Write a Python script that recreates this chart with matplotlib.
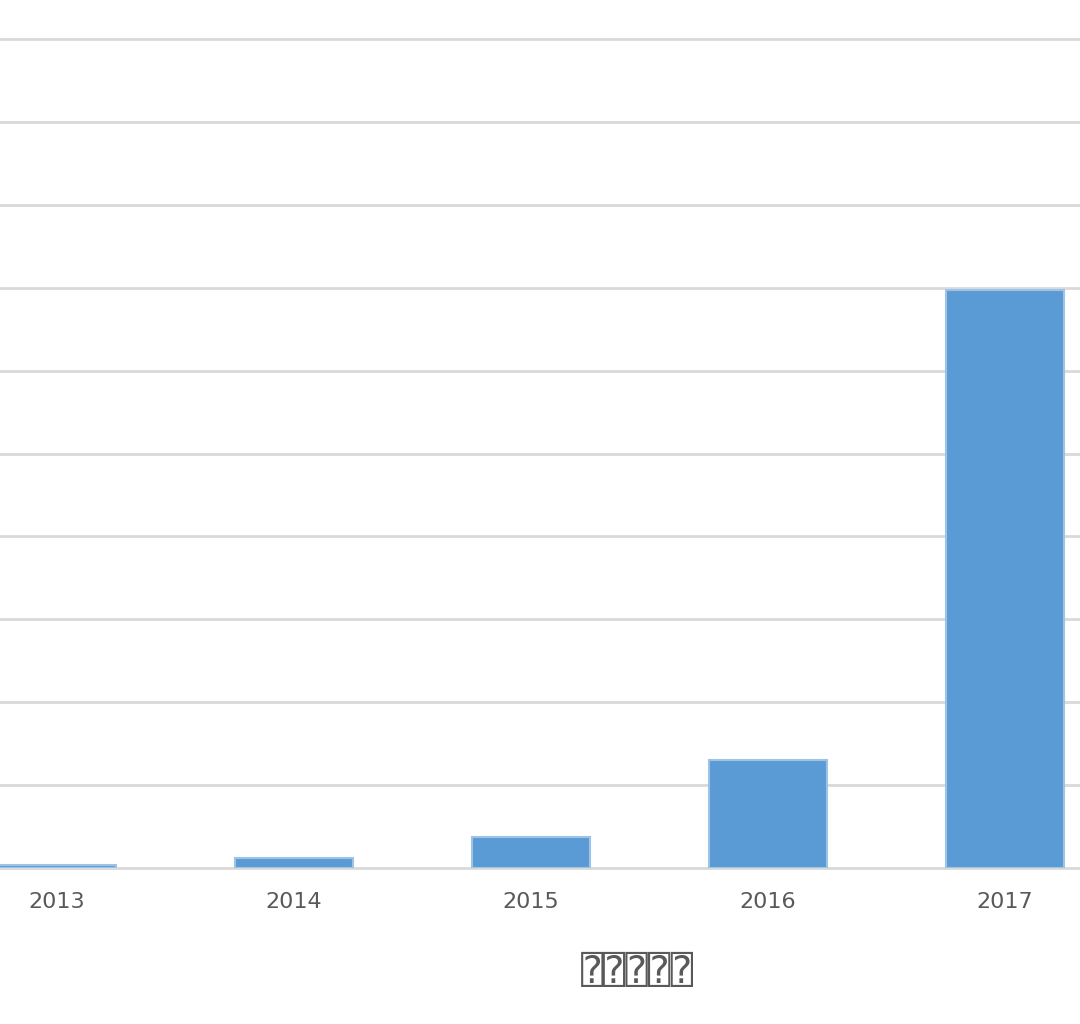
import matplotlib
matplotlib.use("Agg")
import matplotlib.pyplot as plt

years = ["2013", "2014", "2015", "2016", "2017"]
values = [0.04, 0.12, 0.37, 1.3, 6.97]
grid_levels = list(range(0, 11))
xlabel_text = "⍰⍰⍰⍰⍰"

fig = plt.figure(figsize=(10.8, 10.24), dpi=100)
ax = fig.add_axes([0, 1 - 868 / 1024, 1, 868 / 1024])

x = list(range(len(years)))
ax.bar(x, values, width=0.5, color="#5B9BD5", edgecolor="#9DC3E6", linewidth=1.5, zorder=3)

for g in grid_levels:
    ax.axhline(g, color="#D9D9D9", linewidth=2, zorder=1, clip_on=False)

ax.set_xlim(-57 / 237, (1080 - 57) / 237)
ax.set_ylim(0, 10 + 39 / 82.9)
ax.set_xticks(x)
ax.set_xticklabels(years, fontsize=16, color="#595959")
ax.tick_params(axis="x", length=0, pad=17)
ax.set_yticks([])
for s in ax.spines.values():
    s.set_visible(False)

fig.text(637 / 1080, 1 - 973 / 1024, xlabel_text, ha="center", va="center",
         fontsize=27, color="#595959", family=["DejaVu Sans Mono", "DejaVu Sans"])

fig.savefig("out.png", dpi=100)
